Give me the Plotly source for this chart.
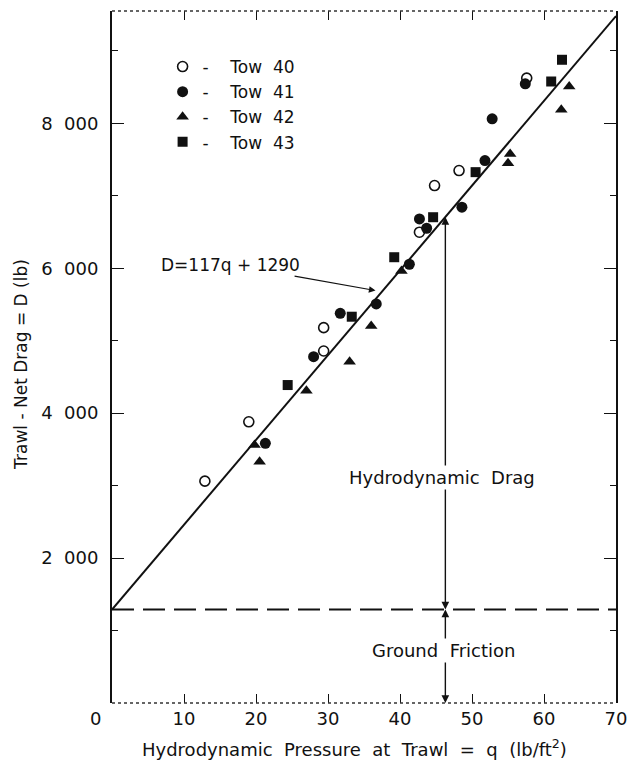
import plotly.graph_objects as go

# ---- data ----
tow40_q = [12.9, 19.0, 29.4, 29.4, 42.7, 44.8, 48.2, 57.6]
tow40_D = [3062, 3881, 4858, 5180, 6497, 7141, 7348, 8624]
tow41_q = [21.3, 28.0, 31.7, 36.7, 41.3, 42.7, 43.7, 48.6, 51.8, 52.8, 57.4]
tow41_D = [3583, 4779, 5378, 5507, 6055, 6681, 6552, 6842, 7486, 8062, 8545]
tow42_q = [19.8, 20.5, 27.0, 33.0, 36.0, 40.2, 55.0, 55.3, 62.4, 63.5]
tow42_D = [3560, 3329, 4310, 4710, 5203, 5963, 7450, 7578, 8186, 8508]
tow43_q = [24.4, 33.3, 39.2, 44.6, 50.5, 61.0, 62.5]
tow43_D = [4388, 5331, 6152, 6704, 7326, 8577, 8877]

slope = 117
intercept = 1290
fit_q = [0, 70]
fit_D = [slope * q + intercept for q in fit_q]
q_marker = 46.3          # position of the drag/friction split arrows

x_ticks = [10, 20, 30, 40, 50, 60, 70]
y_ticks = [2000, 4000, 6000, 8000]
y_ticktext = ["2  000", "4  000", "6  000", "8  000"]

FONT = "DejaVu Sans"
INK = "#111111"

fig = go.Figure()

# fitted line
fig.add_trace(go.Scatter(x=fit_q, y=fit_D, mode="lines",
                         line=dict(color=INK, width=2), showlegend=False,
                         hoverinfo="skip"))
# ground friction dashed line
fig.add_trace(go.Scatter(x=fit_q, y=[intercept, intercept], mode="lines",
                         line=dict(color=INK, width=2, dash="22px,9px"),
                         showlegend=False, hoverinfo="skip"))

series = [
    ("-    Tow  40", tow40_q, tow40_D, "circle", "white", 10),
    ("-    Tow  41", tow41_q, tow41_D, "circle", INK, 11),
    ("-    Tow  42", tow42_q, tow42_D, "triangle-up", INK, 11),
    ("-    Tow  43", tow43_q, tow43_D, "square", INK, 10),
]
for name, xs, ys, sym, fill, size in series:
    fig.add_trace(go.Scatter(
        x=xs, y=ys, mode="markers", name=name,
        marker=dict(symbol=sym, size=size, color=fill,
                    line=dict(color=INK, width=1.6 if fill == "white" else 0)),
    ))

# vertical split arrows
D_top = slope * q_marker + intercept
D_mid_drag = 3117
D_mid_fric = 728
arrow_common = dict(x=q_marker, ax=q_marker, xref="x", yref="y", axref="x", ayref="y",
                    text="", showarrow=True, arrowhead=2, arrowsize=1.1,
                    arrowwidth=1.4, arrowcolor=INK, standoff=0, startstandoff=0)
for tip, tail in [(D_top, D_mid_drag), (intercept, D_mid_drag),
                  (intercept, D_mid_fric), (0, D_mid_fric)]:
    fig.add_annotation(y=tip, ay=tail, **arrow_common)

# labels over the arrows
fig.add_annotation(x=45.9, y=D_mid_drag, xref="x", yref="y", text="Hydrodynamic  Drag",
                   showarrow=False, bgcolor="white", font=dict(family=FONT, size=18, color=INK))
fig.add_annotation(x=46.0, y=D_mid_fric, xref="x", yref="y", text="Ground  Friction",
                   showarrow=False, bgcolor="white", font=dict(family=FONT, size=18, color=INK))

# equation label with arrow
fig.add_annotation(x=36.6, y=slope * 36.6 + intercept + 120, xref="x", yref="y",
                   ax=16.4, ay=6050, axref="x", ayref="y",
                   text="D=117q + 1290", showarrow=True, arrowhead=2,
                   arrowsize=1.1, arrowwidth=1.2, arrowcolor=INK,
                   font=dict(family=FONT, size=17, color=INK))

# origin label "0"
fig.add_annotation(x=0, y=0, xref="x", yref="y", text="0", showarrow=False,
                   xshift=-17, yshift=-15, font=dict(family=FONT, size=18, color=INK))

# axis titles
fig.add_annotation(x=(356 - 112) / 508, y=(702.7 - 748) / 691.7, xref="paper", yref="paper",
                   xanchor="center", yanchor="middle",
                   text="Hydrodynamic  Pressure  at  Trawl  =  q  (lb/ft<sup>2</sup>)",
                   showarrow=False, font=dict(family=FONT, size=18, color=INK))
fig.add_annotation(x=(20 - 112) / 508, y=(702.7 - 364) / 691.7, xref="paper", yref="paper",
                   xanchor="center", yanchor="middle",
                   text="Trawl - Net Drag = D (lb)", textangle=-90,
                   showarrow=False, font=dict(family=FONT, size=17, color=INK))

# dotted top and bottom borders
for yy in (0, 1):
    fig.add_shape(type="line", xref="paper", yref="paper", x0=0, x1=1, y0=yy, y1=yy,
                  line=dict(color="#333333", width=1.5, dash="dot"))

fig.update_xaxes(range=[0, 70], tickvals=x_ticks, ticks="inside", ticklen=9,
                 tickcolor=INK, tickwidth=1.3, mirror="ticks", showline=False,
                 showgrid=False, zeroline=False, ticklabelstandoff=3,
                 tickfont=dict(family=FONT, size=18, color=INK))
fig.update_yaxes(range=[0, 9550], tickvals=y_ticks, ticktext=y_ticktext, ticks="inside",
                 ticklen=12, tickcolor=INK, tickwidth=1.3, showline=True,
                 linecolor=INK, linewidth=2, mirror="ticks", showgrid=False,
                 zeroline=False, ticklabelstandoff=8,
                 minor=dict(dtick=1000, ticks="inside", ticklen=6, tickcolor=INK),
                 tickfont=dict(family=FONT, size=18, color=INK))

fig.update_layout(
    width=638, height=763,
    margin=dict(l=112, r=18, t=11, b=60),
    plot_bgcolor="white", paper_bgcolor="white",
    font=dict(family=FONT, size=16, color=INK),
    legend=dict(x=(163 - 112) / 508, y=(702.7 - 49) / 691.7, xanchor="left", yanchor="top",
                bgcolor="rgba(0,0,0,0)", font=dict(family=FONT, size=17, color=INK),
                itemwidth=30, tracegroupgap=0),
)

fig.write_html("out.html")
